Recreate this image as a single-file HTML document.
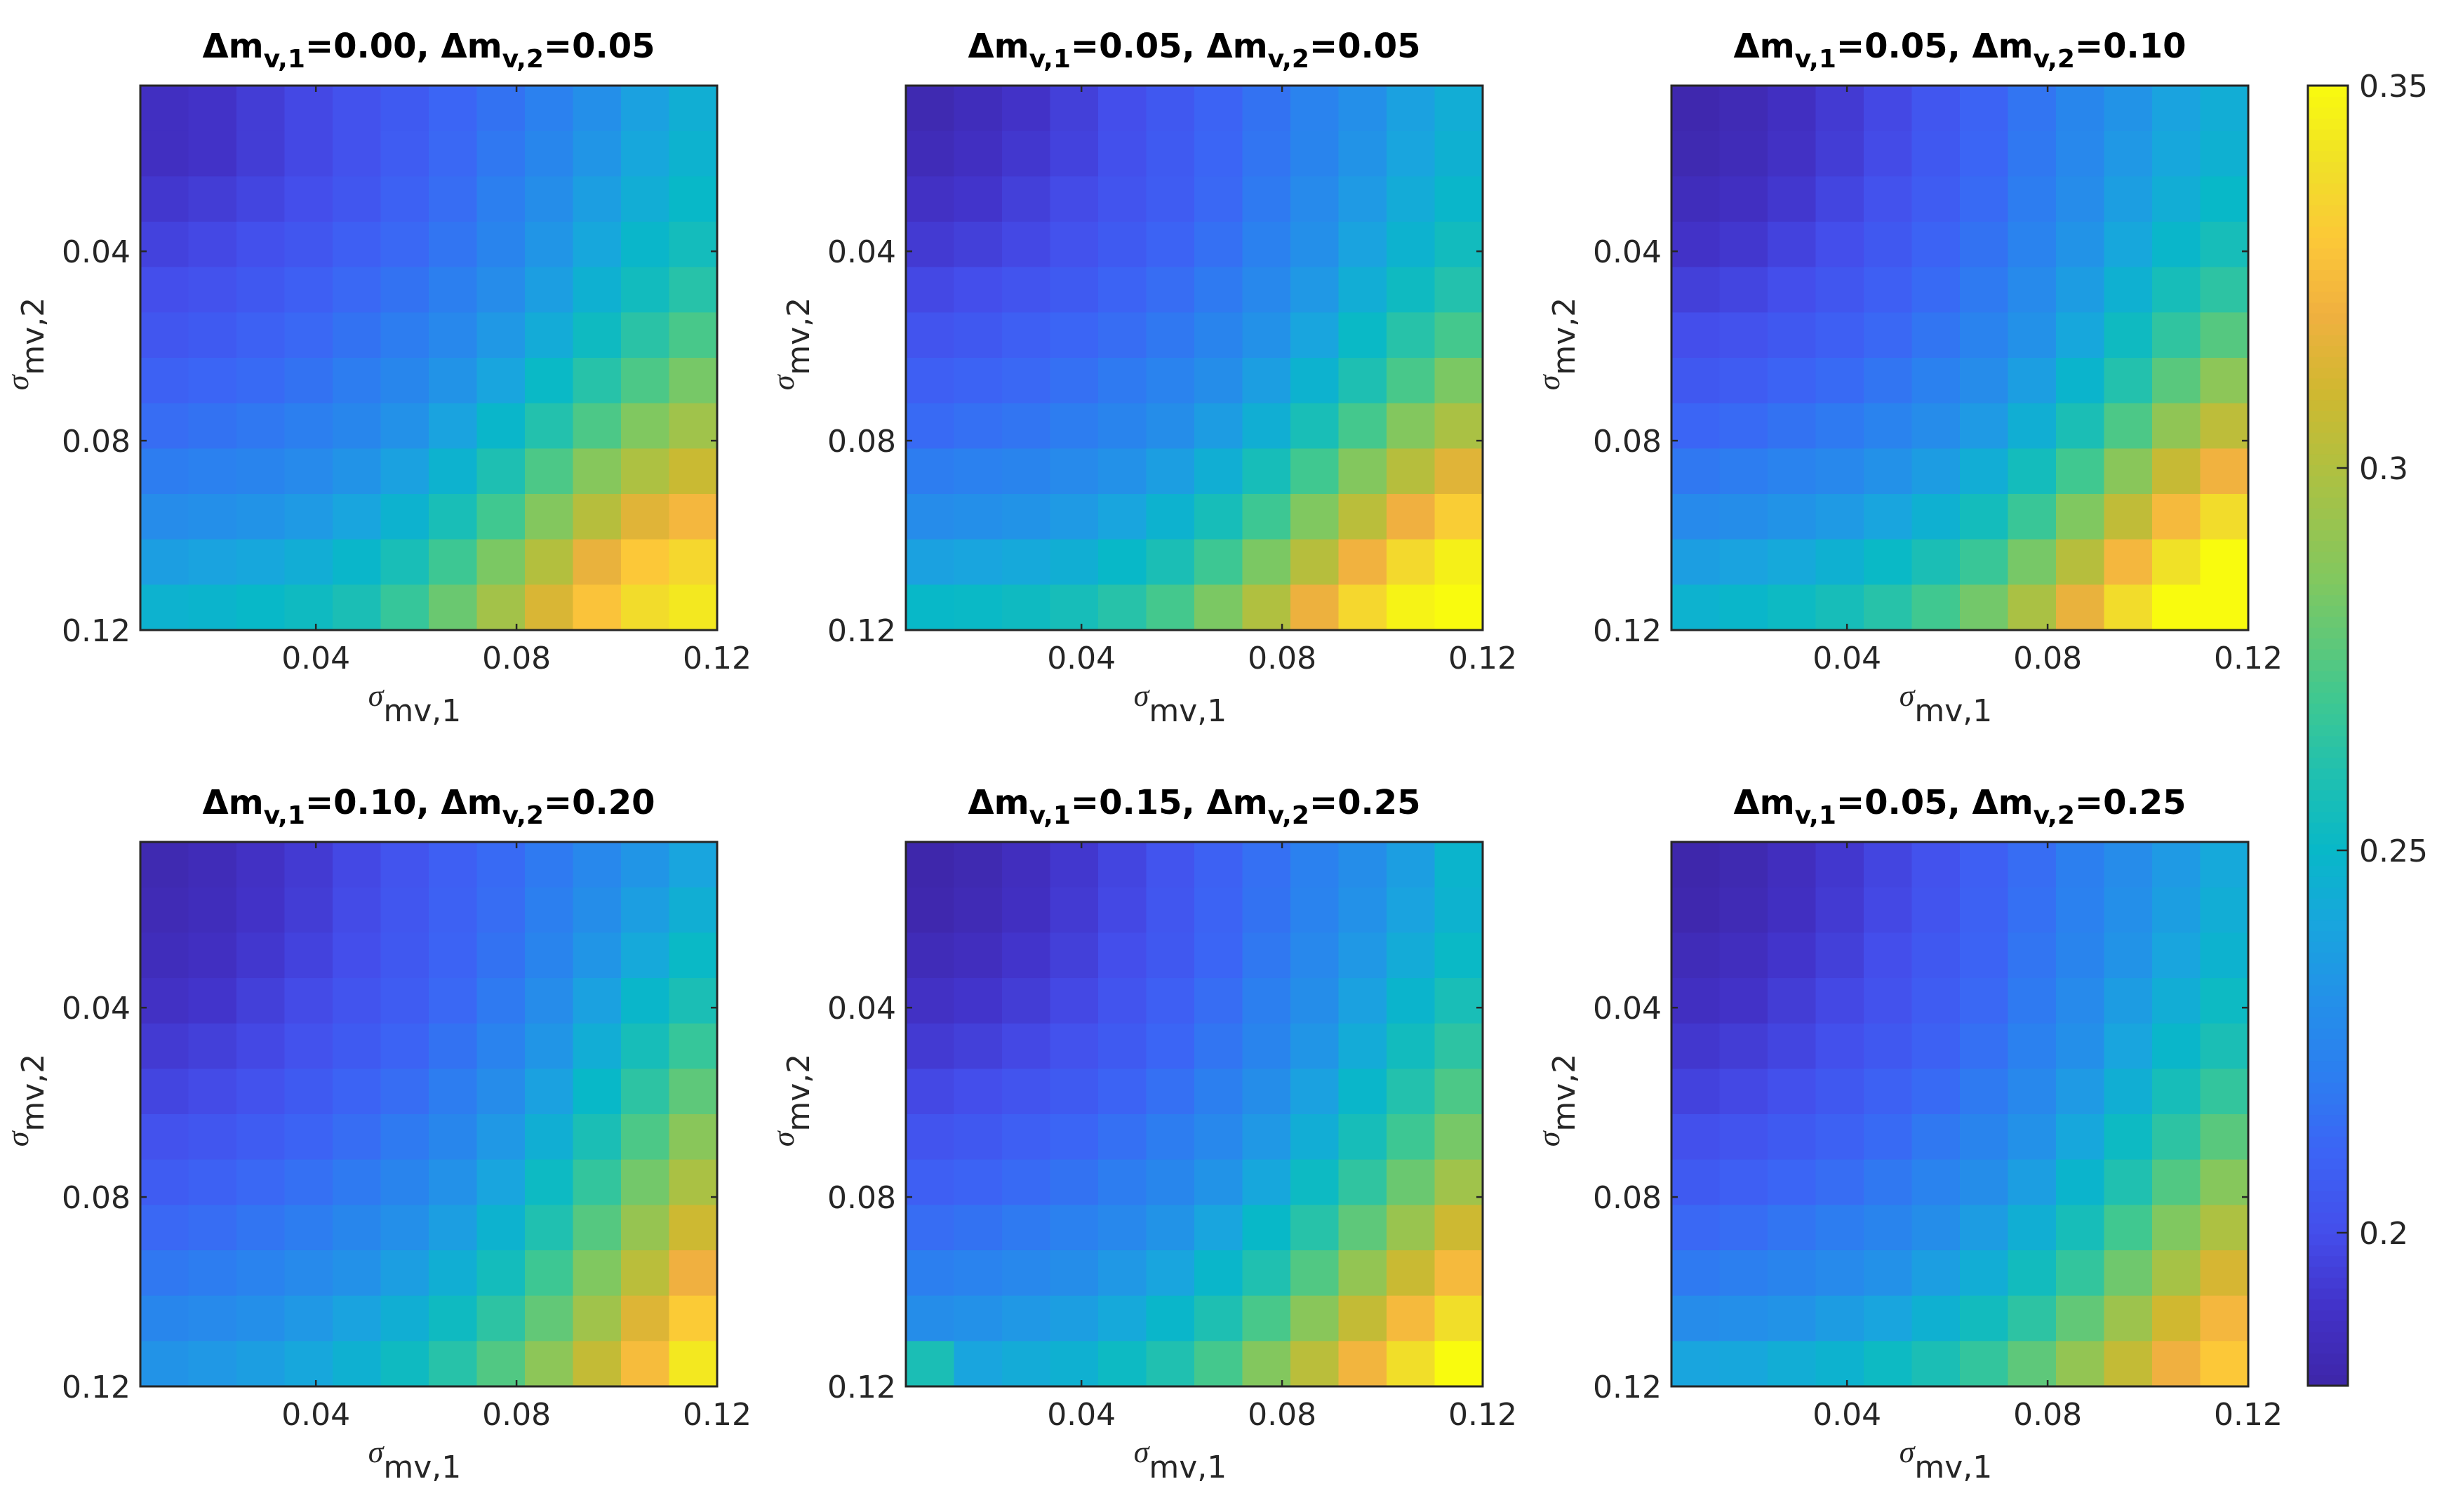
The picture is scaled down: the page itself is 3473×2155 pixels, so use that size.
<!DOCTYPE html>
<html><head><meta charset="utf-8"><style>
html,body{margin:0;padding:0;background:#fff;}
svg{display:block;font-family:"DejaVu Sans","Liberation Sans",sans-serif;}
</style></head><body>
<svg id="fig" width="3473" height="2155" viewBox="0 0 3473 2155" xmlns="http://www.w3.org/2000/svg"></svg>
<script>
// ---- data ----
const xDomain = [0.005, 0.12];
const yDomain = [0.005, 0.12];
const tickValues = [0.04, 0.08, 0.12];
const tickLabels = ["0.04", "0.08", "0.12"];
const cbarTicks = [0.2, 0.25, 0.3, 0.35];
const cbarTickLabels = ["0.2", "0.25", "0.3", "0.35"];
const cRange = [0.18, 0.35];
const titlesDm1 = ["0.00", "0.05", "0.05", "0.10", "0.15", "0.05"];
const titlesDm2 = ["0.05", "0.05", "0.10", "0.20", "0.25", "0.25"];

const panel1 = [
[.188,.190,.194,.198,.202,.206,.211,.216,.222,.230,.238,.245],
[.188,.190,.194,.198,.202,.207,.212,.218,.225,.233,.241,.247],
[.192,.194,.197,.200,.204,.209,.214,.221,.229,.237,.244,.250],
[.196,.198,.201,.204,.208,.212,.217,.224,.233,.241,.249,.255],
[.200,.202,.205,.208,.212,.216,.221,.228,.237,.246,.254,.262],
[.204,.206,.209,.212,.216,.220,.226,.234,.243,.253,.263,.272],
[.209,.211,.213,.216,.220,.225,.232,.240,.251,.262,.273,.283],
[.214,.216,.218,.221,.225,.231,.239,.249,.261,.273,.285,.295],
[.220,.222,.224,.227,.232,.238,.247,.259,.273,.287,.299,.308],
[.228,.230,.232,.235,.240,.247,.257,.270,.286,.302,.315,.323],
[.237,.239,.241,.244,.249,.257,.269,.284,.301,.318,.330,.336],
[.247,.248,.250,.253,.258,.267,.280,.296,.313,.328,.338,.343]];
const panel2 = [
[.183,.186,.190,.195,.200,.205,.210,.216,.223,.230,.238,.244],
[.185,.188,.192,.196,.201,.206,.211,.217,.224,.232,.240,.246],
[.189,.191,.195,.199,.203,.207,.212,.219,.227,.235,.243,.249],
[.193,.195,.198,.202,.206,.210,.215,.222,.230,.239,.247,.254],
[.198,.200,.203,.206,.210,.214,.219,.226,.234,.244,.253,.261],
[.203,.205,.208,.211,.214,.218,.224,.231,.240,.251,.262,.271],
[.208,.210,.212,.215,.219,.223,.229,.237,.247,.259,.272,.284],
[.213,.215,.217,.220,.224,.229,.236,.245,.257,.271,.286,.298],
[.220,.222,.224,.227,.231,.237,.245,.256,.270,.286,.302,.315],
[.228,.230,.232,.235,.240,.247,.256,.269,.285,.303,.320,.332],
[.238,.240,.242,.245,.250,.258,.269,.284,.302,.321,.337,.346],
[.250,.251,.253,.256,.262,.271,.284,.300,.319,.336,.347,.352]];
const panel3 = [
[.182,.184,.188,.193,.198,.204,.210,.217,.225,.232,.239,.244],
[.183,.185,.189,.194,.199,.205,.211,.218,.226,.234,.241,.246],
[.186,.188,.192,.197,.202,.207,.213,.220,.228,.237,.244,.250],
[.190,.192,.196,.200,.205,.210,.216,.223,.232,.241,.249,.256],
[.195,.197,.200,.204,.208,.213,.219,.227,.236,.246,.256,.264],
[.200,.202,.205,.208,.212,.217,.223,.231,.241,.253,.265,.275],
[.205,.207,.210,.213,.217,.222,.228,.237,.248,.261,.276,.289],
[.211,.213,.216,.219,.223,.228,.235,.245,.258,.273,.290,.304],
[.218,.220,.223,.226,.231,.236,.244,.255,.270,.288,.307,.321],
[.227,.229,.232,.235,.240,.246,.255,.268,.285,.305,.324,.338],
[.237,.239,.242,.246,.251,.258,.268,.283,.302,.323,.340,.350],
[.247,.249,.252,.256,.262,.270,.282,.298,.318,.338,.350,.354]];
const panel4 = [
[.183,.185,.189,.193,.198,.203,.208,.213,.219,.226,.233,.240],
[.184,.186,.190,.194,.199,.204,.209,.214,.221,.229,.237,.245],
[.186,.188,.192,.196,.200,.205,.210,.216,.224,.233,.242,.251],
[.189,.191,.195,.199,.203,.207,.212,.219,.228,.238,.249,.258],
[.193,.195,.198,.202,.206,.210,.216,.223,.233,.244,.256,.267],
[.197,.199,.202,.206,.210,.214,.220,.228,.238,.250,.264,.277],
[.202,.204,.207,.210,.214,.219,.225,.234,.245,.258,.273,.288],
[.207,.209,.212,.215,.219,.224,.231,.240,.252,.266,.282,.298],
[.212,.214,.217,.220,.225,.230,.237,.247,.260,.275,.292,.309],
[.218,.220,.223,.227,.231,.237,.245,.255,.269,.285,.303,.320],
[.225,.227,.230,.234,.239,.245,.253,.264,.278,.295,.314,.331],
[.232,.234,.237,.241,.246,.253,.262,.274,.289,.306,.325,.343]];
const panel5 = [
[.181,.183,.187,.192,.197,.203,.209,.215,.222,.229,.237,.248],
[.182,.184,.188,.193,.198,.204,.210,.216,.223,.231,.239,.247],
[.185,.187,.191,.195,.200,.205,.211,.218,.226,.234,.243,.251],
[.189,.191,.194,.198,.203,.208,.214,.221,.229,.238,.248,.257],
[.193,.195,.198,.202,.206,.211,.217,.224,.233,.243,.254,.264],
[.198,.200,.203,.206,.210,.215,.221,.229,.238,.249,.261,.273],
[.203,.205,.208,.211,.215,.220,.226,.234,.244,.256,.269,.283],
[.208,.210,.213,.216,.220,.225,.232,.241,.252,.265,.280,.295],
[.214,.216,.219,.222,.226,.232,.240,.250,.262,.277,.293,.309],
[.221,.223,.226,.229,.234,.240,.249,.260,.274,.291,.308,.324],
[.229,.231,.234,.237,.242,.249,.259,.272,.288,.306,.324,.339],
[.258,.240,.243,.246,.252,.260,.271,.286,.303,.322,.339,.350]];
const panel6 = [
[.181,.183,.187,.192,.197,.202,.208,.214,.221,.228,.235,.242],
[.182,.184,.188,.193,.198,.203,.209,.215,.222,.230,.237,.244],
[.185,.187,.191,.195,.200,.205,.210,.217,.224,.232,.240,.247],
[.188,.190,.194,.198,.202,.207,.212,.219,.227,.236,.244,.252],
[.192,.194,.197,.201,.205,.209,.215,.222,.230,.240,.249,.258],
[.196,.198,.201,.205,.209,.213,.219,.226,.235,.245,.256,.266],
[.201,.203,.206,.209,.213,.218,.224,.231,.241,.252,.264,.276],
[.206,.208,.211,.214,.218,.223,.229,.237,.248,.260,.274,.287],
[.212,.214,.217,.220,.224,.229,.236,.245,.256,.270,.285,.299],
[.219,.221,.224,.227,.231,.237,.244,.254,.266,.281,.297,.312],
[.228,.230,.232,.236,.240,.246,.254,.264,.278,.294,.310,.323],
[.240,.241,.244,.247,.252,.258,.266,.277,.291,.306,.320,.330]];
const panels = [panel1, panel2, panel3, panel4, panel5, panel6];

// ---- layout ----
const NS = "http://www.w3.org/2000/svg";
const svg = document.getElementById('fig');
const colX = [200, 1291, 2382], rowY = [122, 1200], PW = 822, PH = 776;
const stops = [[0,62,38,168],[0.06,66,50,200],[0.118,68,78,235],[0.18,60,100,245],[0.235,45,125,240],[0.30,35,145,232],[0.353,25,165,222],[0.412,8,184,200],[0.47,32,192,176],[0.53,64,200,144],[0.618,128,200,96],[0.706,176,192,64],[0.765,208,184,48],[0.824,240,176,64],[0.882,252,200,56],[0.94,240,224,40],[1,249,251,14]];
function cmap(v){
  let t=(v-cRange[0])/(cRange[1]-cRange[0]); t=Math.max(0,Math.min(1,t));
  for(let i=1;i<stops.length;i++){ if(t<=stops[i][0]){ const a=stops[i-1],b=stops[i],f=(t-a[0])/(b[0]-a[0]);
    return `rgb(${Math.round(a[1]+f*(b[1]-a[1]))},${Math.round(a[2]+f*(b[2]-a[2]))},${Math.round(a[3]+f*(b[3]-a[3]))})`; } }
  return 'rgb(249,251,14)';
}
function mk(tag, attrs, parent){ const e=document.createElementNS(NS,tag); for(const k in attrs) e.setAttribute(k,attrs[k]); (parent||svg).appendChild(e); return e; }

panels.forEach((data,p)=>{
  const x0=colX[p%3], y0=rowY[Math.floor(p/3)];
  const xs=v=>x0+(v-xDomain[0])/(xDomain[1]-xDomain[0])*PW;
  const ys=v=>y0+(v-yDomain[0])/(yDomain[1]-yDomain[0])*PH;
  const g=mk('g',{});
  
  
  const nr=data.length, nc=data[0].length;
  const dx=(xDomain[1]-xDomain[0])/nc, dy=(yDomain[1]-yDomain[0])/nr;
  data.forEach((row,r)=>row.forEach((v,c)=>{
    const xa=xs(xDomain[0]+c*dx), xb=xs(xDomain[0]+(c+1)*dx), ya=ys(yDomain[0]+r*dy), yb=ys(yDomain[0]+(r+1)*dy);
    const cell=mk('rect',{x:xa,y:ya,width:xb-xa+0.6,height:yb-ya+0.6,fill:cmap(v)},g);
    
    
  }));
  const frame=mk('rect',{x:x0,y:y0,width:PW,height:PH,fill:'none',stroke:'#262626','stroke-width':3},g);
  
  
  tickValues.forEach((tv,i)=>{
    const tx=xs(tv), ty=ys(tv);
    mk('line',{x1:tx,y1:y0+PH,x2:tx,y2:y0+PH-9,stroke:'#262626','stroke-width':2.5},g);
    mk('line',{x1:tx,y1:y0,x2:tx,y2:y0+9,stroke:'#262626','stroke-width':2.5},g);
    mk('line',{x1:x0,y1:ty,x2:x0+9,y2:ty,stroke:'#262626','stroke-width':2.5},g);
    mk('line',{x1:x0+PW,y1:ty,x2:x0+PW-9,y2:ty,stroke:'#262626','stroke-width':2.5},g);
    const xl=mk('text',{x:tx,y:y0+PH+55,'font-size':44,fill:'#262626','text-anchor':'middle'},g);
    xl.textContent=tickLabels[i];
    
    
    const yl=mk('text',{x:x0-14,y:ty+16,'font-size':44,fill:'#262626','text-anchor':'end'},g);
    yl.textContent=tickLabels[i];
    
    
  });
  const xt=mk('text',{x:x0+PW/2-20,y:y0+PH+118,'font-size':44,fill:'#262626','text-anchor':'middle'},g);
  xt.innerHTML='<tspan font-family="Liberation Serif" font-style="italic" font-size="44" dy="-10">σ</tspan><tspan dy="22">mv,1</tspan>';
  
  
  const yt=mk('text',{x:0,y:0,'font-size':44,fill:'#262626','text-anchor':'middle',transform:`translate(${x0-150},${y0+PH/2-20}) rotate(-90)`},g);
  yt.innerHTML='<tspan font-family="Liberation Serif" font-style="italic" dy="-10">σ</tspan><tspan dy="22">mv,2</tspan>';
  
  
  const tt=mk('text',{x:x0+PW/2,y:y0-40,'font-size':48,'font-weight':'bold',fill:'#000','text-anchor':'middle'},g);
  tt.innerHTML=`Δm<tspan font-size="36" dy="14">v,1</tspan><tspan dy="-14">=${titlesDm1[p]}, Δm</tspan><tspan font-size="36" dy="14">v,2</tspan><tspan dy="-14">=${titlesDm2[p]}</tspan>`;
  
  
});

// ---- colorbar ----
const cb=mk('g',{});


const cbX=3289, cbW=57, cbTop=122, cbBot=1975;
const cs=v=>cbBot-(v-cRange[0])/(cRange[1]-cRange[0])*(cbBot-cbTop);
const N=120;
for(let i=0;i<N;i++){
  const va=cRange[0]+i*(cRange[1]-cRange[0])/N, vb=cRange[0]+(i+1)*(cRange[1]-cRange[0])/N;
  mk('rect',{x:cbX,y:cs(vb),width:cbW,height:cs(va)-cs(vb)+0.6,fill:cmap((va+vb)/2)},cb);
}
mk('rect',{x:cbX,y:cbTop,width:cbW,height:cbBot-cbTop,fill:'none',stroke:'#262626','stroke-width':3},cb);
cbarTicks.forEach((tv,i)=>{
  const ty=cs(tv);
  mk('line',{x1:cbX+cbW,y1:ty,x2:cbX+cbW-16,y2:ty,stroke:'#262626','stroke-width':2.5},cb);
  const t=mk('text',{x:cbX+cbW+16,y:ty+16,'font-size':44,fill:'#262626'},cb);
  t.textContent=cbarTickLabels[i];
  
  
});
</script>
</body></html>
